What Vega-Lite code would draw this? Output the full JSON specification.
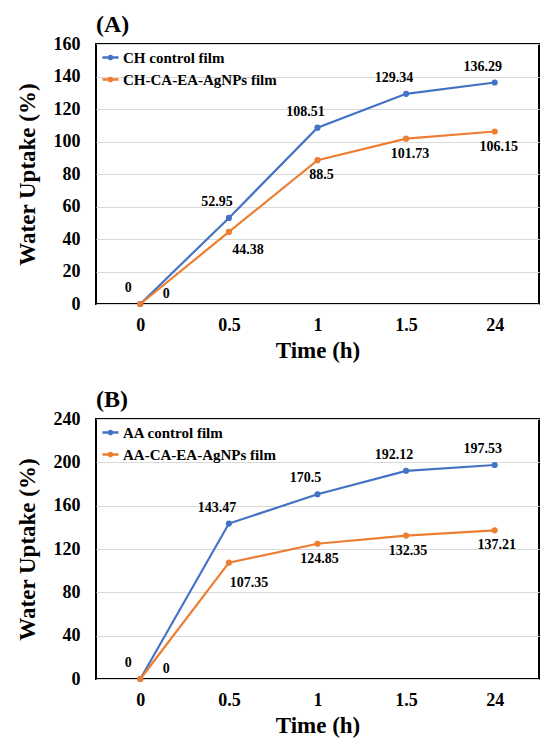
{
  "$schema": "https://vega.github.io/schema/vega-lite/v6.json",
  "description": "Water uptake of control and AgNPs films over time, two panels",
  "background": "white",
  "padding": {"left": 15, "top": 12, "right": 1, "bottom": 4},
  "spacing": 24,
  "vconcat": [
    {
      "title": "(A)",
      "width": 443,
      "height": 260,
      "data": {
        "values": [
          {"time": "0", "series": "CH control film", "uptake": 0},
          {"time": "0.5", "series": "CH control film", "uptake": 52.95},
          {"time": "1", "series": "CH control film", "uptake": 108.51},
          {"time": "1.5", "series": "CH control film", "uptake": 129.34},
          {"time": "24", "series": "CH control film", "uptake": 136.29},
          {"time": "0", "series": "CH-CA-EA-AgNPs film", "uptake": 0},
          {"time": "0.5", "series": "CH-CA-EA-AgNPs film", "uptake": 44.38},
          {"time": "1", "series": "CH-CA-EA-AgNPs film", "uptake": 88.5},
          {"time": "1.5", "series": "CH-CA-EA-AgNPs film", "uptake": 101.73},
          {"time": "24", "series": "CH-CA-EA-AgNPs film", "uptake": 106.15}
        ]
      },
      "encoding": {
        "x": {
          "field": "time",
          "type": "ordinal",
          "sort": ["0", "0.5", "1", "1.5", "24"],
          "scale": {"type": "point", "padding": 0.5},
          "title": "Time (h)"
        },
        "y": {
          "field": "uptake",
          "type": "quantitative",
          "scale": {"domain": [0, 160], "nice": false},
          "axis": {"values": [0, 20, 40, 60, 80, 100, 120, 140, 160]},
          "title": "Water Uptake (%)"
        }
      },
      "layer": [
        {
          "mark": {"type": "line", "strokeWidth": 2.2, "point": {"filled": true, "size": 38}},
          "encoding": {
            "color": {
              "field": "series",
              "type": "nominal",
              "scale": {"domain": ["CH control film", "CH-CA-EA-AgNPs film"], "range": ["#4472C4", "#ED7D31"]},
              "legend": {
                "orient": "none",
                "legendX": 5,
                "legendY": 4,
                "title": null,
                "symbolType": "M-1,0L1,0M-0.2,0A0.2,0.2,0,1,1,0.2,0A0.2,0.2,0,1,1,-0.2,0",
                "symbolSize": 260,
                "symbolStrokeWidth": 2.5,
                "rowPadding": 4
              }
            }
          }
        },
        {
          "transform": [{"filter": {"field": "series", "equal": "CH control film"}}],
          "mark": {"type": "text", "dx": -12, "dy": -16},
          "encoding": {"text": {"field": "uptake", "type": "quantitative", "format": ".2~f"}}
        },
        {
          "transform": [
            {"filter": {"field": "series", "equal": "CH-CA-EA-AgNPs film"}},
            {"filter": {"field": "time", "equal": "0"}}
          ],
          "mark": {"type": "text", "dx": 26, "dy": -10},
          "encoding": {"text": {"field": "uptake", "type": "quantitative", "format": ".2~f"}}
        },
        {
          "transform": [
            {"filter": {"field": "series", "equal": "CH-CA-EA-AgNPs film"}},
            {"filter": {"field": "time", "equal": "0.5"}}
          ],
          "mark": {"type": "text", "dx": 19, "dy": 18},
          "encoding": {"text": {"field": "uptake", "type": "quantitative", "format": ".2~f"}}
        },
        {
          "transform": [
            {"filter": {"field": "series", "equal": "CH-CA-EA-AgNPs film"}},
            {"filter": {"field": "time", "oneOf": ["1", "1.5", "24"]}}
          ],
          "mark": {"type": "text", "dx": 4, "dy": 15},
          "encoding": {"text": {"field": "uptake", "type": "quantitative", "format": ".2~f"}}
        }
      ]
    },
    {
      "title": "(B)",
      "width": 443,
      "height": 260,
      "data": {
        "values": [
          {"time": "0", "series": "AA control film", "uptake": 0},
          {"time": "0.5", "series": "AA control film", "uptake": 143.47},
          {"time": "1", "series": "AA control film", "uptake": 170.5},
          {"time": "1.5", "series": "AA control film", "uptake": 192.12},
          {"time": "24", "series": "AA control film", "uptake": 197.53},
          {"time": "0", "series": "AA-CA-EA-AgNPs film", "uptake": 0},
          {"time": "0.5", "series": "AA-CA-EA-AgNPs film", "uptake": 107.35},
          {"time": "1", "series": "AA-CA-EA-AgNPs film", "uptake": 124.85},
          {"time": "1.5", "series": "AA-CA-EA-AgNPs film", "uptake": 132.35},
          {"time": "24", "series": "AA-CA-EA-AgNPs film", "uptake": 137.21}
        ]
      },
      "encoding": {
        "x": {
          "field": "time",
          "type": "ordinal",
          "sort": ["0", "0.5", "1", "1.5", "24"],
          "scale": {"type": "point", "padding": 0.5},
          "title": "Time (h)"
        },
        "y": {
          "field": "uptake",
          "type": "quantitative",
          "scale": {"domain": [0, 240], "nice": false},
          "axis": {"values": [0, 40, 80, 120, 160, 200, 240]},
          "title": "Water Uptake (%)"
        }
      },
      "layer": [
        {
          "mark": {"type": "line", "strokeWidth": 2.2, "point": {"filled": true, "size": 38}},
          "encoding": {
            "color": {
              "field": "series",
              "type": "nominal",
              "scale": {"domain": ["AA control film", "AA-CA-EA-AgNPs film"], "range": ["#4472C4", "#ED7D31"]},
              "legend": {
                "orient": "none",
                "legendX": 5,
                "legendY": 4,
                "title": null,
                "symbolType": "M-1,0L1,0M-0.2,0A0.2,0.2,0,1,1,0.2,0A0.2,0.2,0,1,1,-0.2,0",
                "symbolSize": 260,
                "symbolStrokeWidth": 2.5,
                "rowPadding": 4
              }
            }
          }
        },
        {
          "transform": [{"filter": {"field": "series", "equal": "AA control film"}}],
          "mark": {"type": "text", "dx": -12, "dy": -16},
          "encoding": {"text": {"field": "uptake", "type": "quantitative", "format": ".2~f"}}
        },
        {
          "transform": [
            {"filter": {"field": "series", "equal": "AA-CA-EA-AgNPs film"}},
            {"filter": {"field": "time", "equal": "0"}}
          ],
          "mark": {"type": "text", "dx": 26, "dy": -10},
          "encoding": {"text": {"field": "uptake", "type": "quantitative", "format": ".2~f"}}
        },
        {
          "transform": [
            {"filter": {"field": "series", "equal": "AA-CA-EA-AgNPs film"}},
            {"filter": {"field": "time", "equal": "0.5"}}
          ],
          "mark": {"type": "text", "dx": 20, "dy": 20},
          "encoding": {"text": {"field": "uptake", "type": "quantitative", "format": ".2~f"}}
        },
        {
          "transform": [
            {"filter": {"field": "series", "equal": "AA-CA-EA-AgNPs film"}},
            {"filter": {"field": "time", "oneOf": ["1", "1.5", "24"]}}
          ],
          "mark": {"type": "text", "dx": 2, "dy": 15},
          "encoding": {"text": {"field": "uptake", "type": "quantitative", "format": ".2~f"}}
        }
      ]
    }
  ],
  "resolve": {"scale": {"color": "independent"}, "legend": {"color": "independent"}},
  "config": {
    "font": "Liberation Serif, Times New Roman, serif",
    "view": {"stroke": "black", "strokeWidth": 2},
    "title": {
      "font": "Liberation Serif, Times New Roman, serif",
      "fontSize": 24,
      "fontWeight": "bold",
      "color": "black",
      "anchor": "start",
      "frame": "group",
      "offset": -2
    },
    "axis": {
      "domain": false,
      "ticks": false,
      "labelFont": "Liberation Serif, Times New Roman, serif",
      "labelFontSize": 18,
      "labelFontWeight": "bold",
      "labelColor": "black",
      "titleFont": "Liberation Serif, Times New Roman, serif",
      "titleFontSize": 23,
      "titleFontWeight": "bold",
      "titleColor": "black"
    },
    "axisX": {"grid": false, "labelAngle": 0, "labelPadding": 12, "titlePadding": 5},
    "axisY": {"grid": true, "gridColor": "#d9d9d9", "gridWidth": 1, "labelPadding": 16, "titlePadding": 14},
    "legend": {
      "labelFont": "Liberation Serif, Times New Roman, serif",
      "labelFontSize": 15,
      "labelFontWeight": "bold",
      "labelColor": "black",
      "labelOffset": 3
    },
    "text": {"font": "Liberation Serif, Times New Roman, serif", "fontSize": 14, "fontWeight": "bold", "color": "black"}
  }
}
